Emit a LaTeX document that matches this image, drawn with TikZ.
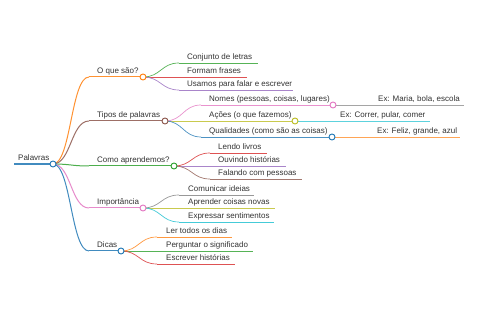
\documentclass[tikz,border=0pt]{standalone}
\usepackage{fontspec}
\setmainfont{Liberation Sans}
\definecolor{cBlue}{RGB}{31,119,180}
\definecolor{cOrange}{RGB}{255,127,14}
\definecolor{cGreen}{RGB}{44,160,44}
\definecolor{cRed}{RGB}{214,39,40}
\definecolor{cPurple}{RGB}{148,103,189}
\definecolor{cBrown}{RGB}{140,86,75}
\definecolor{cPink}{RGB}{227,119,194}
\definecolor{cGrey}{RGB}{127,127,127}
\definecolor{cOlive}{RGB}{188,189,34}
\definecolor{cCyan}{RGB}{23,190,207}
\definecolor{txtgray}{RGB}{51,51,51}

\tikzset{
    link/.style={line width=0.7pt, to path={.. controls +(18,0) and +(-18,0) .. (\tikztotarget)}},
    stem/.style={line width=0.7pt},
    topic/.style={font=\fontsize{8}{9.6}\selectfont, text=txtgray, anchor=base west, inner sep=0pt},
    dot/.style={line width=0.9pt, fill=white}
}

\begin{document}
\begin{tikzpicture}[x=1pt, y=-1pt]
                \useasboundingbox (0,0) rectangle (480,320);
                \fill[white] (0,0) rectangle (480,320);

                % Root
                \coordinate (root-l) at (14,164);
                \coordinate (root-r) at (53,164);
                \node[topic] (root) at (18,161) {Palavras};
                \draw[stem, cBlue!85, line width=1.4pt] (root-l) -- (root-r);

                % Main branches
                \foreach \n/\y/\xe/\c/\t in {oque/77/143/cOrange/{O que são?},
                        tipos/121/165/cBrown/{Tipos de palavras},
                        como/166/174/cGreen/{Como aprendemos?},
                        imp/208/143/cPink/{Importância},
                        dicas/251/121/cBlue/{Dicas}} {
                    \coordinate (\n-l) at (89,\y);
                    \coordinate (\n-r) at (\xe,\y);
                    \node[topic] (\n) at (97,{\y-3}) {\t};
                    \draw[link, \c!85, line width=1pt] (root-r) to (\n-l);
                    \draw[stem, \c!85, line width=1pt] (\n-l) -- (\n-r);
                }

                % O que são?
                \foreach \n/\y/\xe/\c/\t in {conj/63/258/cGreen/{Conjunto de letras},
                        form/77/247/cRed/{Formam frases},
                        usam/90/293/cPurple/{Usamos para falar e escrever}} {
                    \coordinate (\n-l) at (179,\y);
                    \coordinate (\n-r) at (\xe,\y);
                    \node[topic] (\n) at (187,{\y-3}) {\t};
                    \draw[link, \c!80] (oque-r) to (\n-l);
                    \draw[stem, \c!80] (\n-l) -- (\n-r);
                }

                % Tipos de palavras
                \foreach \n/\y/\xe/\c/\t in {nomes/105/333/cPink/{Nomes (pessoas, coisas, lugares)},
                        acoes/121/295/cOlive/{Ações (o que fazemos)},
                        qual/137/332/cBlue/{Qualidades (como são as coisas)}} {
                    \coordinate (\n-l) at (201,\y);
                    \coordinate (\n-r) at (\xe,\y);
                    \node[topic] (\n) at (209,{\y-3}) {\t};
                    \draw[link, \c!80] (tipos-r) to (\n-l);
                    \draw[stem, \c!80] (\n-l) -- (\n-r);
                }

                % Examples
                \foreach \p/\n/\y/\xs/\xe/\c/\t in {nomes/exmar/105/369/464/cGrey/{Ex: Maria, bola, escola},
                        acoes/excor/121/331/430/cCyan/{Ex: Correr, pular, comer},
                        qual/exfel/137/368/460/cOrange/{Ex: Feliz, grande, azul}} {
                    \coordinate (\n-l) at (\xs,\y);
                    \coordinate (\n-r) at (\xe,\y);
                    \node[topic] (\n) at ({\xs+9},{\y-3}) {\t};
                    \draw[link, \c!70] (\p-r) to (\n-l);
                    \draw[stem, \c!70] (\n-l) -- (\n-r);
                }

                % Como aprendemos?
                \foreach \n/\y/\xe/\c/\t in {lendo/153/267/cRed/{Lendo livros},
                        ouv/166/286/cPurple/{Ouvindo histórias},
                        fal/179/302/cBrown/{Falando com pessoas}} {
                    \coordinate (\n-l) at (210,\y);
                    \coordinate (\n-r) at (\xe,\y);
                    \node[topic] (\n) at (218,{\y-3}) {\t};
                    \draw[link, \c!80] (como-r) to (\n-l);
                    \draw[stem, \c!80] (\n-l) -- (\n-r);
                }

                % Importância
                \foreach \n/\y/\xe/\c/\t in {com/195/254/cGrey/{Comunicar ideias},
                        apr/208/275/cOlive/{Aprender coisas novas},
                        exp/222/274/cCyan/{Expressar sentimentos}} {
                    \coordinate (\n-l) at (179,\y);
                    \coordinate (\n-r) at (\xe,\y);
                    \node[topic] (\n) at (188,{\y-3}) {\t};
                    \draw[link, \c!80] (imp-r) to (\n-l);
                    \draw[stem, \c!80] (\n-l) -- (\n-r);
                }

                % Dicas
                \foreach \n/\y/\xe/\c/\t in {ler/237/232/cOrange/{Ler todos os dias},
                        perg/251/253/cGreen/{Perguntar o significado},
                        esc/264/235/cRed/{Escrever histórias}} {
                    \coordinate (\n-l) at (157,\y);
                    \coordinate (\n-r) at (\xe,\y);
                    \node[topic] (\n) at (166,{\y-3}) {\t};
                    \draw[link, \c!80] (dicas-r) to (\n-l);
                    \draw[stem, \c!80] (\n-l) -- (\n-r);
                }

                % Branch circles
                \foreach \n/\c in {root/cBlue, oque/cOrange, tipos/cBrown, como/cGreen,
                        imp/cPink, dicas/cBlue, nomes/cPink, acoes/cOlive, qual/cBlue} {
                    \draw[draw=\c, dot] (\n-r) circle (3);
                }
            \end{tikzpicture}
\end{document}
